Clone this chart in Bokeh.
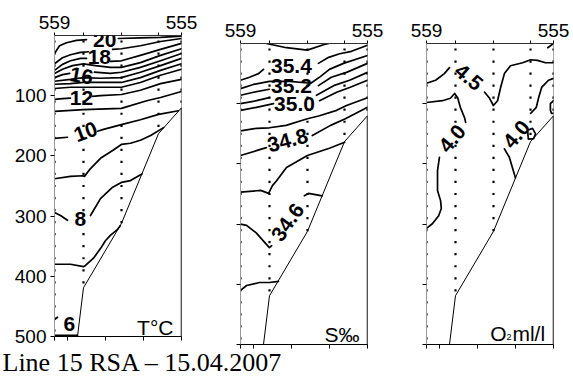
from bokeh.plotting import figure
from bokeh.models import Range1d, FixedTicker, LinearAxis, Label, Spacer
from bokeh.layouts import row, column
from bokeh.embed import file_html
from bokeh.resources import INLINE

SANS = "Liberation Sans"
SERIF = "Liberation Serif"
CAPTION = "Line 15 RSA \u2013 15.04.2007"

# ---------------- section geometry (distance km from st. 559, depth m) ----------------
SECTION_KM = 33.42
STATION_KM = [0.0, 7.63, 17.63, 27.37, 33.42]
STATION_NAMES = ["559", "558", "557", "556", "555"]
STATION_BOTTOM_M = [520, 419, 312, 163, 120]
PROFILE_KM = [33.42, 27.37, 17.63, 7.63, 6.05]
PROFILE_M = [120, 163, 312, 419, 500]
SAMPLE_M = [10, 30, 50, 70, 90, 110, 130, 150, 170, 190, 210, 230, 250,
            270, 290, 310, 330, 350, 370, 390, 410, 430, 450, 470, 490]
DEPTH_TICKS = [100, 200, 300, 400, 500]
DIST_TICKS_KM = [0, 3.42, 13.42, 23.42, 33.42]

# ---------------- temperature isolines (km, m) ----------------
t20a = ([0, 1.32, 3.16, 5.79, 8.42], [30, 17, 12, 8, 7])
t20b = ([16.8, 22.6, 27.9, 33.42], [5, 4, 3, 1])
t19a = ([0, 2.1, 4.21, 6.84, 8.95], [47, 37, 32, 28, 27])
t19b = ([15.3, 17.6, 22.6, 27.9, 33.42], [23, 22, 17, 10, 5])
t18a = ([0, 2.1, 4.21, 6.84, 8.42], [58, 48, 42, 38, 38])
t18b = ([14.7, 17.6, 22.6, 27.9, 33.42], [43, 42, 33, 23, 13])
t17 = ([0, 2.1, 4.74, 7.63, 10.79, 14.7, 17.6, 22.6, 27.9, 33.42],
       [63, 56, 50, 47, 50, 53, 53, 45, 33, 22])
t16a = ([0, 2.1, 4.0], [70, 65, 63])
t16b = ([10.5, 14.7, 17.6, 22.6, 27.9, 33.42], [61, 63, 61, 53, 42, 30])
t15 = ([0, 4.21, 7.63, 12.1, 17.6, 22.6, 27.9, 33.42], [76, 73, 70, 71, 70, 61, 50, 38])
t14 = ([0, 4.21, 7.63, 12.1, 17.6, 22.6, 27.9, 33.42], [81, 80, 78, 78, 78, 70, 58, 47])
t13 = ([0, 4.21, 7.63, 12.1, 17.6, 22.6, 27.9, 33.42], [88, 86, 86, 86, 86, 78, 66, 56])
t12a = ([0, 2.1, 4.2], [106, 105, 104])
t12b = ([10.0, 12.1, 17.6, 22.6, 27.9, 33.42], [101, 100, 98, 91, 80, 73])
t11 = ([0, 7.63, 17.6, 24.5, 27.9, 33.42], [126, 123, 121, 108, 103, 93])
t10a = ([0, 3.42], [171, 169])
t10b = ([11.3, 12.9, 17.6, 22.6, 27.4, 32.6], [159, 156, 148, 140, 131, 125])
t9 = ([0, 4.21, 7.37, 7.89, 9.47, 12.1, 15.3, 17.6, 20.0, 22.6, 25.3, 28.7],
      [238, 234, 233, 234, 221, 204, 191, 181, 179, 174, 166, 153])
t8a = ([0, 1.58, 3.42], [294, 299, 307])
t8b = ([9.47, 12.1, 15.3, 17.6, 20.0, 23.0], [299, 271, 252, 244, 241, 230])
t7 = ([0, 4.21, 7.63, 8.16, 10.26, 12.1, 13.4, 14.7, 16.6, 17.3],
      [380, 380, 384, 382, 370, 354, 341, 332, 322, 316])
t6a = ([0, 0.79], [472, 468])
t6b = ([0, 6.05], [498, 498])
T_LINES = [t20a, t20b, t19a, t19b, t18a, t18b, t17, t16a, t16b, t15, t14, t13,
           t12a, t12b, t11, t10a, t10b, t9, t8a, t8b, t7, t6a, t6b]
T_LABELS = ["20", "18", "16", "12", "10", "8", "6"]
T_LABEL_KM = [13.2, 11.8, 7.1, 7.1, 8.2, 6.8, 3.9]
T_LABEL_M = [7, 36, 67, 103, 160, 305, 479]
T_LABEL_ANGLE = [0, 0, -10, 0, 20, 0, 0]

# ---------------- salinity isolines ----------------
s355 = ([6.8, 12.1, 17.6, 21.8, 23.2], [0, 7, 11, 2, 0])
s354a = ([0, 2.37, 4.74, 6.05], [61, 56, 50, 43])
s354b = ([20.5, 23.2, 26.1, 29.2, 33.42], [33, 23, 17, 13, 3])
s353 = ([0, 3.4, 7.6, 13.0, 18.5, 21.0, 23.4, 27.1, 33.42], [75, 68, 63, 63, 66, 55, 43, 33, 20])
s352a = ([0, 3.42, 7.6], [86, 81, 76])
s352b = ([20.5, 23.9, 27.9, 33.42], [70, 56, 48, 33])
s351a = ([0, 4.2, 7.6], [100, 95, 90])
s351b = ([20.0, 24.5, 28.7, 33.42], [86, 70, 61, 48])
s350a = ([0, 4.2, 8.7], [111, 106, 100])
s350b = ([20.8, 25.3, 28.7, 33.42], [95, 81, 73, 61])
s349 = ([0, 4.2, 7.6, 12.0, 17.6, 20.8, 25.3, 27.9, 33.42], [145, 141, 140, 136, 125, 120, 111, 103, 90])
s348a = ([0, 4.2, 6.8], [186, 178, 173])
s348b = ([18.9, 23.7, 27.6, 33.42], [153, 136, 125, 106])
s347 = ([0, 5.3, 7.4, 8.4, 9.5, 12.1, 17.6, 23.4, 27.4], [247, 244, 249, 236, 228, 206, 186, 174, 164])
s346a = ([0, 1.6, 4.2, 6.3, 7.6, 8.2], [300, 302, 315, 330, 339, 336])
s346b = ([16.8, 17.9, 21.5], [253, 249, 253])
s345 = ([0, 1.6, 5.0, 7.6, 10.0], [410, 402, 397, 397, 395])
S_LINES = [s355, s354a, s354b, s353, s352a, s352b, s351a, s351b, s350a, s350b,
           s349, s348a, s348b, s347, s346a, s346b, s345]
S_LABELS = ["35.4", "35.2", "35.0", "34.8", "34.6"]
S_LABEL_KM = [13.4, 13.4, 14.2, 12.4, 12.4]
S_LABEL_M = [37, 71, 101, 161, 297]
S_LABEL_ANGLE = [0, 0, 0, 15, 55]

# ---------------- oxygen isolines ----------------
o45a = ([0, 2.4, 4.7, 6.05], [66, 61, 50, 40])
o45b = ([15.3, 16.6, 17.6, 18.7, 19.5, 20.5, 22.1, 25.3, 27.4, 29.2, 31.3, 33.42],
        [81, 91, 103, 95, 73, 50, 37, 32, 27, 28, 32, 32])
o40la = ([0, 4.2, 6.3, 7.4, 8.2, 8.9, 10.0, 10.3], [98, 95, 91, 83, 90, 106, 123, 131])
o40lb = ([3.4, 2.9, 2.9, 3.7, 3.9, 3.2, 1.6, 0], [189, 211, 244, 261, 274, 286, 299, 307])
o40ra = ([20.5, 21.8, 22.6, 23.4], [175, 189, 206, 223])
o40rb = ([27.4, 28.9, 29.5, 30.3, 32.1, 33.42], [116, 106, 90, 73, 61, 58])
o_loop = ([26.6, 27.9, 28.7, 28.2, 26.8, 26.6], [144, 141, 150, 158, 159, 144])
o_edge = ([33.42, 32.6, 32.6, 32.9, 33.42], [95, 100, 111, 116, 116])
o_corner = ([31.9, 33.42], [7, 0])
O_LINES = [o45a, o45b, o40la, o40lb, o40ra, o40rb, o_loop, o_edge, o_corner]
O_LABELS = ["4.5", "4.0", "4.0"]
O_LABEL_KM = [11.1, 6.8, 23.7]
O_LABEL_M = [56, 158, 151]
O_LABEL_ANGLE = [-40, 50, 50]

FRAME_W, FRAME_H = 127, 301


def make_panel(lines, labels, lab_km, lab_m, lab_ang, left, right, top, bottom, show_depth_labels):
    p = figure(width=left + FRAME_W + right, height=top + FRAME_H + bottom,
               x_range=Range1d(0, SECTION_KM), y_range=Range1d(500, 0),
               x_axis_location="above", toolbar_location=None, output_backend="svg",
               min_border_left=left, min_border_right=right,
               min_border_top=top, min_border_bottom=bottom)
    p.grid.visible = False
    p.outline_line_color = "#a8a8a8"
    p.background_fill_color = "white"
    p.border_fill_color = "white"

    top_ax = p.xaxis[0]
    top_ax.ticker = FixedTicker(ticks=[STATION_KM[0], STATION_KM[-1]], minor_ticks=STATION_KM[1:-1])
    top_ax.major_label_overrides = {STATION_KM[0]: STATION_NAMES[0], STATION_KM[-1]: STATION_NAMES[-1]}
    top_ax.major_label_text_font = SANS
    top_ax.major_label_text_font_size = "19px"
    top_ax.major_label_text_color = "black"
    top_ax.major_label_standoff = 4
    top_ax.major_tick_out = 3
    top_ax.major_tick_in = 0
    top_ax.minor_tick_out = 3
    top_ax.minor_tick_in = 0
    top_ax.axis_line_color = "#333333"
    top_ax.major_tick_line_color = "black"
    top_ax.minor_tick_line_color = "black"

    y_ax = p.yaxis[0]
    y_ax.ticker = FixedTicker(ticks=DEPTH_TICKS)
    y_ax.major_label_text_font = SANS
    if show_depth_labels:
        y_ax.major_label_text_font_size = "19px"
        y_ax.major_label_text_color = "black"
        y_ax.major_label_standoff = 4
    else:
        y_ax.major_label_text_font_size = "1px"
        y_ax.major_label_text_color = None
        y_ax.major_label_standoff = 0
    y_ax.major_tick_out = 4
    y_ax.major_tick_in = 0
    y_ax.minor_tick_line_color = None
    y_ax.axis_line_color = "#999999"
    y_ax.major_tick_line_color = "black"

    bot_ax = LinearAxis(ticker=FixedTicker(ticks=DIST_TICKS_KM))
    bot_ax.major_label_text_font_size = "1px"
    bot_ax.major_label_text_color = None
    bot_ax.major_label_standoff = 0
    bot_ax.major_tick_out = 4
    bot_ax.major_tick_in = 0
    bot_ax.minor_tick_line_color = None
    bot_ax.axis_line_color = "black"
    bot_ax.major_tick_line_color = "black"
    p.add_layout(bot_ax, "below")

    # sampling points
    dx, dy = [], []
    for km, bottom_m in zip(STATION_KM, STATION_BOTTOM_M):
        for d in SAMPLE_M:
            if d <= bottom_m - 2:
                dx.append(km)
                dy.append(d)
    p.scatter(dx, dy, marker="square", size=2.2, color="black", line_color=None)

    # isolines
    p.multi_line(xs=[l[0] for l in lines], ys=[l[1] for l in lines],
                 line_color="black", line_width=1.7, line_join="round", line_cap="round")

    # bottom profile
    p.line(PROFILE_KM, PROFILE_M, line_color="black", line_width=1)
    p.line([SECTION_KM, SECTION_KM], [PROFILE_M[0], 500], line_color="black", line_width=1.5)

    for t, x, y, a in zip(labels, lab_km, lab_m, lab_ang):
        p.add_layout(Label(x=x, y=y, text=t, angle=a, angle_units="deg",
                           text_align="center", text_baseline="middle",
                           text_font=SANS, text_font_style="bold",
                           text_font_size="21px", text_color="black"))
    return p


# Bokeh's page template has no body margin, so borders are page pixels.
p1 = make_panel(T_LINES, T_LABELS, T_LABEL_KM, T_LABEL_M, T_LABEL_ANGLE, 54, 29, 35, 13, True)
p2 = make_panel(S_LINES, S_LABELS, S_LABEL_KM, S_LABEL_M, S_LABEL_ANGLE, 30, 29, 35, 5, False)
p3 = make_panel(O_LINES, O_LABELS, O_LABEL_KM, O_LABEL_M, O_LABEL_ANGLE, 30, 20, 35, 5, False)

unit_font = dict(text_font=SANS, text_font_size="21px", text_color="black", text_baseline="alphabetic")
p1.add_layout(Label(x=31.3, y=485, text="T\u00b0C", text_align="right", **unit_font))
p2.add_layout(Label(x=31.3, y=483, text="S\u2030", text_align="right", **unit_font))
p3.add_layout(Label(x=16.8, y=482, text="O", text_align="left", **unit_font))
p3.add_layout(Label(x=21.05, y=488, text="2", text_align="left", text_font=SANS,
                    text_font_size="9px", text_color="black", text_baseline="alphabetic"))
p3.add_layout(Label(x=22.6, y=482, text="ml/l", text_align="left", **unit_font))

# caption strip: transparent, pulled up so that it ends at the window bottom
cap = figure(width=573, height=36, x_range=Range1d(0, 1), y_range=Range1d(0, 1),
             x_axis_type=None, y_axis_type=None, toolbar_location=None,
             output_backend="svg", min_border=0)
cap.grid.visible = False
cap.outline_line_color = None
cap.background_fill_color = None
cap.border_fill_color = None
cap.styles = {"margin-top": "-14px"}
cap.add_layout(Label(x=2, y=9, x_units="screen", y_units="screen", text=CAPTION,
                     text_font=SERIF, text_font_size="26px", text_color="black",
                     text_baseline="alphabetic", text_align="left"))

right_pair = column(Spacer(width=363, height=8), row(p2, p3))
layout = column(row(p1, right_pair), cap)
open("out.html", "w").write(file_html(layout, INLINE))
